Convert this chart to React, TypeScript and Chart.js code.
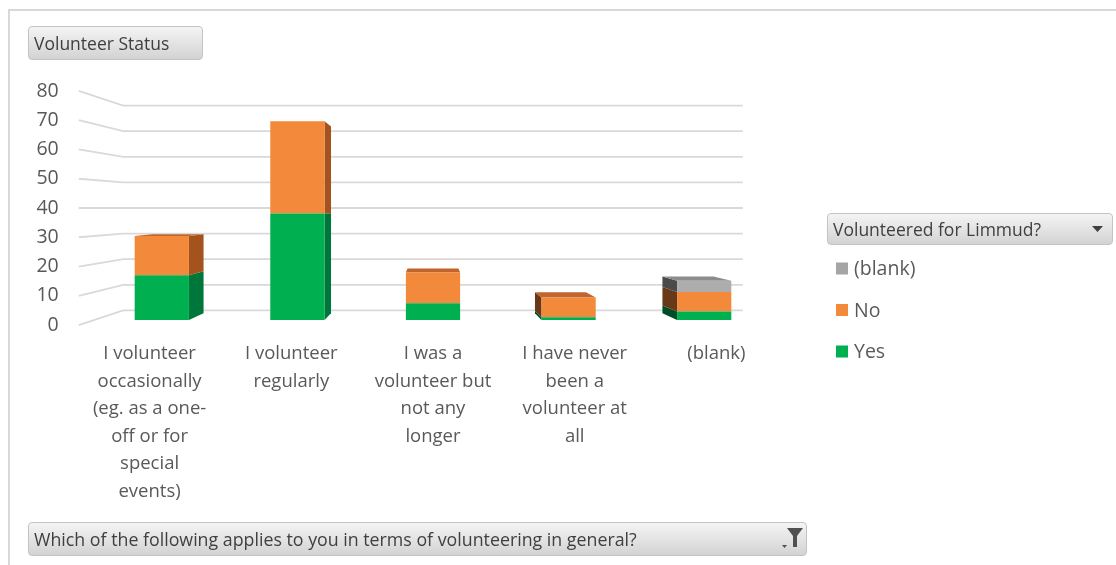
import { useEffect, useRef } from "react";
import { Chart, registerables } from "chart.js";

Chart.register(...registerables);

// Category axis labels, already wrapped into lines
const categoryLines: string[][] = [
  ["I volunteer", "occasionally", "(eg. as a one-", "off or for", "special", "events)"],
  ["I volunteer", "regularly"],
  ["I was a", "volunteer but", "not any", "longer"],
  ["I have never", "been a", "volunteer at", "all"],
  ["(blank)"],
];

const seriesNames = ["Yes", "No", "(blank)"];
const yesValues = [16, 38, 6, 1, 3];
const noValues = [14, 33, 11, 7, 7];
const blankValues = [0, 0, 0, 0, 4];

const yTickValues = [0, 10, 20, 30, 40, 50, 60, 70, 80];

const fieldTitle = "Volunteer Status";
const legendTitle = "Volunteered for Limmud?";
const axisFieldTitle = "Which of the following applies to you in terms of volunteering in general?";

// face colours per series: front, right side, left side, top
const palette = [
  { front: "#00B050", right: "#00773A", left: "#004E25", top: "#009A45" },
  { front: "#F3893A", right: "#A4531E", left: "#683818", top: "#C0652B" },
  { front: "#ADADAD", right: "#7A7A7A", left: "#4A4A4A", top: "#8C8C8C" },
];

const FONT = '"Open Sans", "Noto Sans", sans-serif';
const TEXT = "#595959";

// perspective factors relative to the bar front plane
const BAR_BACK = 0.94;
const WALL = 0.914;
const LABEL_PLANE = 1.045;

function project(cx: number, cy: number, x: number, y: number, f: number): [number, number] {
  return [cx + (x - cx) * f, cy + (y - cy) * f];
}

function poly(ctx: CanvasRenderingContext2D, pts: [number, number][], fill: string) {
  ctx.beginPath();
  ctx.moveTo(pts[0][0], pts[0][1]);
  for (let i = 1; i < pts.length; i++) ctx.lineTo(pts[i][0], pts[i][1]);
  ctx.closePath();
  ctx.fillStyle = fill;
  ctx.fill();
}

const columns3d = {
  id: "columns3d",
  beforeDatasetsDraw(chart: any) {
    const { ctx, chartArea: a, scales } = chart;
    const ys = scales.y;
    const cx = (a.left + a.right) / 2;
    const cy = (a.top + a.bottom) / 2;
    ctx.save();

    // back wall and side wall gridlines
    ctx.strokeStyle = "#D9D9D9";
    ctx.lineWidth = 1.8;
    for (const v of yTickValues) {
      const yy = ys.getPixelForValue(v);
      const p0 = project(cx, cy, a.left, yy, LABEL_PLANE);
      const p1 = project(cx, cy, a.left, yy, WALL);
      const p2 = project(cx, cy, a.right, yy, WALL);
      ctx.beginPath();
      ctx.moveTo(p0[0], p0[1]);
      ctx.lineTo(p1[0], p1[1]);
      ctx.lineTo(p2[0], p2[1]);
      ctx.stroke();
    }

    // side and top faces of the stacked columns
    const n = chart.data.labels.length;
    for (let i = 0; i < n; i++) {
      let topDs = -1;
      chart.data.datasets.forEach((ds: any, d: number) => {
        if (ds.data[i] > 0) topDs = d;
      });
      chart.data.datasets.forEach((ds: any, d: number) => {
        if (!(ds.data[i] > 0)) return;
        const el = chart.getDatasetMeta(d).data[i];
        const p = el.getProps(["x", "y", "base", "width"], true);
        const l = p.x - p.width / 2;
        const r = p.x + p.width / 2;
        const t = Math.min(p.y, p.base);
        const b = Math.max(p.y, p.base);
        const c = palette[d];
        if (r < cx - 1) {
          poly(ctx, [[r, t], project(cx, cy, r, t, BAR_BACK), project(cx, cy, r, b, BAR_BACK), [r, b]], c.right);
        } else if (l > cx + 1) {
          poly(ctx, [[l, t], project(cx, cy, l, t, BAR_BACK), project(cx, cy, l, b, BAR_BACK), [l, b]], c.left);
        }
        if (d === topDs && t > cy) {
          poly(ctx, [[l, t], [r, t], project(cx, cy, r, t, BAR_BACK), project(cx, cy, l, t, BAR_BACK)], c.top);
        }
      });
    }
    ctx.restore();
  },
  afterDraw(chart: any) {
    const { ctx, chartArea: a, scales } = chart;
    const ys = scales.y;
    const xs = scales.x;
    const cx = (a.left + a.right) / 2;
    const cy = (a.top + a.bottom) / 2;
    ctx.save();
    ctx.fillStyle = TEXT;

    // value axis labels
    ctx.font = `19.5px ${FONT}`;
    ctx.textAlign = "right";
    ctx.textBaseline = "middle";
    for (const v of yTickValues) {
      const p = project(cx, cy, a.left, ys.getPixelForValue(v), LABEL_PLANE);
      ctx.fillText(String(v), p[0] - 20, p[1]);
    }

    // category labels
    ctx.font = `18.5px ${FONT}`;
    ctx.textAlign = "center";
    const baseY = project(cx, cy, a.left, a.bottom, LABEL_PLANE)[1] + 29;
    categoryLines.forEach((lines, i) => {
      const px = project(cx, cy, xs.getPixelForValue(i), a.bottom, LABEL_PLANE)[0];
      lines.forEach((s, k) => ctx.fillText(s, px, baseY + k * 27.5));
    });

    // legend, listed top series first
    ctx.font = `19.5px ${FONT}`;
    ctx.textAlign = "left";
    const legendX = 836;
    const legendY = 268.5;
    const ds = chart.data.datasets;
    for (let k = ds.length - 1, row = 0; k >= 0; k--, row++) {
      const yy = legendY + row * 41.5;
      ctx.fillStyle = ds[k].legendColor;
      ctx.fillRect(legendX, yy - 6, 12, 12);
      ctx.fillStyle = TEXT;
      ctx.fillText(ds[k].label, legendX + 18, yy + 1);
    }
    ctx.restore();
  },
};

const buttonStyle: any = {
  position: "absolute",
  boxSizing: "border-box",
  border: "1px solid #C3C3C3",
  borderRadius: 4,
  background: "linear-gradient(#F4F4F4, #D3D3D3)",
  color: "#3F3F3F",
  fontFamily: FONT,
  fontSize: 17.5,
  paddingLeft: 5,
  whiteSpace: "nowrap",
  overflow: "hidden",
};

export default function App() {
  const canvasRef = useRef<HTMLCanvasElement>(null);

  useEffect(() => {
    const values = [yesValues, noValues, blankValues];
    const chart = new Chart(canvasRef.current as HTMLCanvasElement, {
      type: "bar",
      data: {
        labels: categoryLines.map((l) => l.join(" ")),
        datasets: seriesNames.map((name, d) => ({
          label: name,
          data: values[d],
          backgroundColor: palette[d].front,
          legendColor: d === 2 ? "#A5A5A5" : palette[d].front,
          borderWidth: 0,
          barPercentage: 0.4,
          categoryPercentage: 1,
        })) as any,
      },
      options: {
        responsive: false,
        animation: false,
        layout: { padding: { left: 94, right: 344, top: 96, bottom: 245 } },
        scales: {
          x: { display: false, stacked: true },
          y: { display: false, stacked: true, min: 0, max: 80 },
        },
        plugins: { legend: { display: false }, tooltip: { enabled: false } },
      },
      plugins: [columns3d],
    });
    return () => chart.destroy();
  }, []);

  return (
    <div style={{ position: "absolute", left: 0, top: 0, width: 1116, height: 565, overflow: "hidden", background: "#fff" }}>
      <div
        style={{
          position: "absolute",
          left: 8,
          top: 9,
          width: 1200,
          height: 700,
          borderTop: "2px solid #D9D9D9",
          borderLeft: "2px solid #D9D9D9",
        }}
      />
      <canvas ref={canvasRef} width={1116} height={565} style={{ position: "absolute", left: 0, top: 0 }} />
      <div style={{ ...buttonStyle, left: 28, top: 26, width: 175, height: 34, lineHeight: "32px" }}>{fieldTitle}</div>
      <div style={{ ...buttonStyle, left: 827, top: 213, width: 286, height: 32, lineHeight: "30px" }}>
        {legendTitle}
        <svg width="12" height="8" style={{ position: "absolute", left: 264, top: 12 }}>
          <polygon points="0,0 11,0 5.5,6" fill="#404040" />
        </svg>
      </div>
      <div style={{ ...buttonStyle, left: 28, top: 522, width: 779, height: 34, lineHeight: "32px", fontSize: 17.8 }}>
        {axisFieldTitle}
        <svg width="26" height="26" style={{ position: "absolute", left: 750, top: 3 }}>
          <polygon points="8,2 24,2 18,10 18,21 14,21 14,10" fill="#505050" />
          <polygon points="3,19 8,19 5.5,22" fill="#505050" />
        </svg>
      </div>
    </div>
  );
}
